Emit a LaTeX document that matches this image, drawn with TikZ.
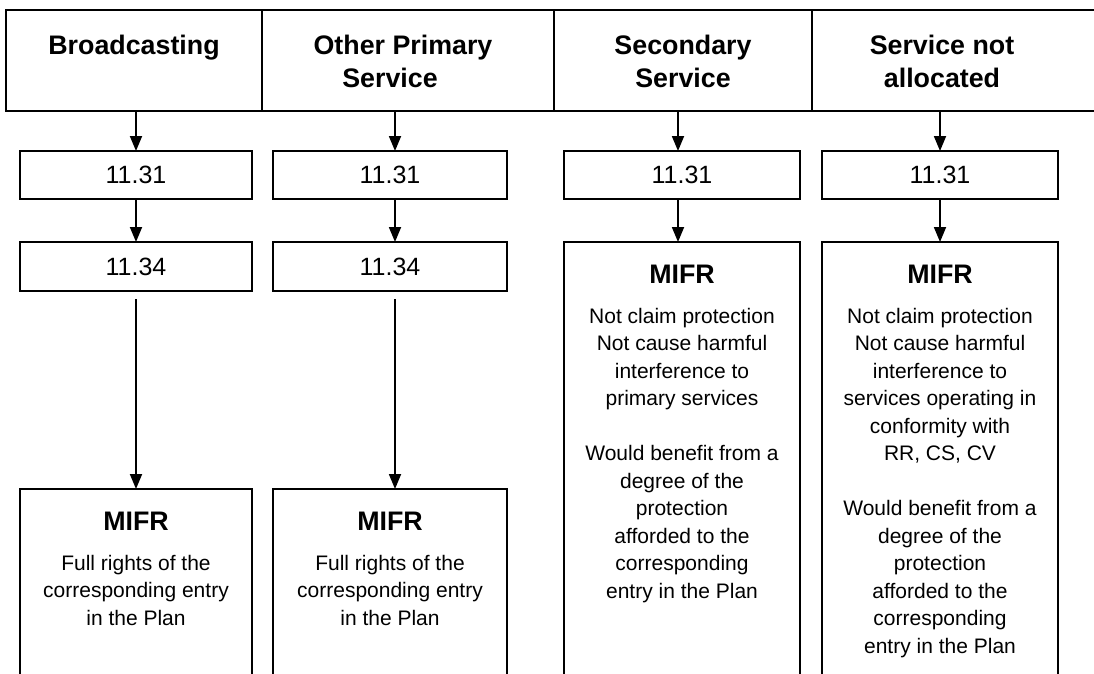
\documentclass[tikz,border=0pt]{standalone}
\usepackage{fontspec}
\setmainfont{Liberation Sans}
\usetikzlibrary{arrows.meta}
\newcommand{\cellbox}[3]{\begin{minipage}[t][#2][t]{#1}\centering #3\end{minipage}}
\newcommand{\hdfont}{\fontsize{26.8}{33}\selectfont\bfseries}
\newcommand{\mifrfont}{\fontsize{26.8}{32}\selectfont\bfseries}
\newcommand{\bodyfont}{\fontsize{21}{27.5}\selectfont}
\newcommand{\mifrhead}{\rule{0pt}{41pt}{\mifrfont MIFR}\par\vspace{12.5pt}\bodyfont}
\tikzset{
  ln/.style={line width=1.8pt, line cap=rect},
  hd/.style={anchor=north west, inner sep=0pt, outer sep=0pt, line width=1.8pt},
  sm/.style={draw, anchor=north west, inner sep=0pt, outer sep=0pt, line width=1.8pt, minimum height=48pt, font=\fontsize{25}{30}\selectfont},
  big/.style={draw, anchor=north west, inner sep=0pt, outer sep=0pt, line width=1.8pt},
  arr/.style={line width=1.8pt, -{Triangle[width=12pt,length=15pt]}}
}
\begin{document}
\begin{tikzpicture}[x=1pt,y=-1pt]
\useasboundingbox (0,0) rectangle (1094,673);
\clip (0,0) rectangle (1094,673);
\fill[white] (0,0) rectangle (1094,673);
% header row
\node[hd, draw] (h1) at (6,10) {\cellbox{256pt}{101pt}{\hdfont\rule{0pt}{44pt}Broadcasting}};
\node[hd, draw] (h2) at (262,10) {\cellbox{292pt}{101pt}{\hdfont\rule{0pt}{44pt}Other Primary\kern10pt\\Service\kern36pt}};
\node[hd, draw] (h3) at (554,10) {\cellbox{258pt}{101pt}{\hdfont\rule{0pt}{44pt}Secondary\\Service}};
\node[hd] (h4) at (812,10) {\cellbox{260pt}{101pt}{\hdfont\rule{0pt}{44pt}Service not\\allocated}};
\draw[ln] (h4.north west) -- ++(300,0);
\draw[ln] (h4.south west) -- ++(300,0);
% 11.31 boxes
\node[sm, minimum width=232pt] (a1) at (20,151) {11.31};
\node[sm, minimum width=234pt] (a2) at (273,151) {11.31};
\node[sm, minimum width=236pt] (a3) at (564,151) {11.31};
\node[sm, minimum width=236pt] (a4) at (822,151) {11.31};
% 11.34 boxes
\node[sm, minimum width=232pt, minimum height=49pt] (b1) at (20,242) {11.34};
\node[sm, minimum width=234pt, minimum height=49pt] (b2) at (273,242) {11.34};
% MIFR boxes
\node[big] (c1) at (20,489) {\cellbox{232pt}{230pt}{\mifrhead Full rights of the\\corresponding entry\\in the Plan}};
\node[big] (c2) at (273,489) {\cellbox{234pt}{230pt}{\mifrhead Full rights of the\\corresponding entry\\in the Plan}};
\node[big] (c3) at (564,242) {\cellbox{236pt}{470pt}{\mifrhead Not claim protection\\Not cause harmful\\interference to\\primary services\\[27.5pt]Would benefit from a\\degree of the\\protection\\afforded to the\\corresponding\\entry in the Plan}};
\node[big] (c4) at (822,242) {\cellbox{236pt}{470pt}{\mifrhead Not claim protection\\Not cause harmful\\interference to\\services operating in\\conformity with\\RR, CS, CV\\[27.5pt]Would benefit from a\\degree of the\\protection\\afforded to the\\corresponding\\entry in the Plan}};
% arrows
\draw[arr] (h1.south -| a1.north) -- (a1.north);
\draw[arr] ([xshift=5pt]a2.north |- h2.south) -- ([xshift=5pt]a2.north);
\draw[arr] ([xshift=-4pt]a3.north |- h3.south) -- ([xshift=-4pt]a3.north);
\draw[arr] (a4.north |- h4.south) -- (a4.north);
\draw[arr] (a1.south) -- (b1.north);
\draw[arr] ([xshift=5pt]a2.south) -- ([xshift=5pt]b2.north);
\draw[arr] ([xshift=-4pt]a3.south) -- ([xshift=-4pt]c3.north);
\draw[arr] (a4.south) -- (c4.north);
\draw[arr, shorten <=8pt] (b1.south) -- (c1.north);
\draw[arr, shorten <=8pt] ([xshift=5pt]b2.south) -- ([xshift=5pt]c2.north);
\end{tikzpicture}
\end{document}
